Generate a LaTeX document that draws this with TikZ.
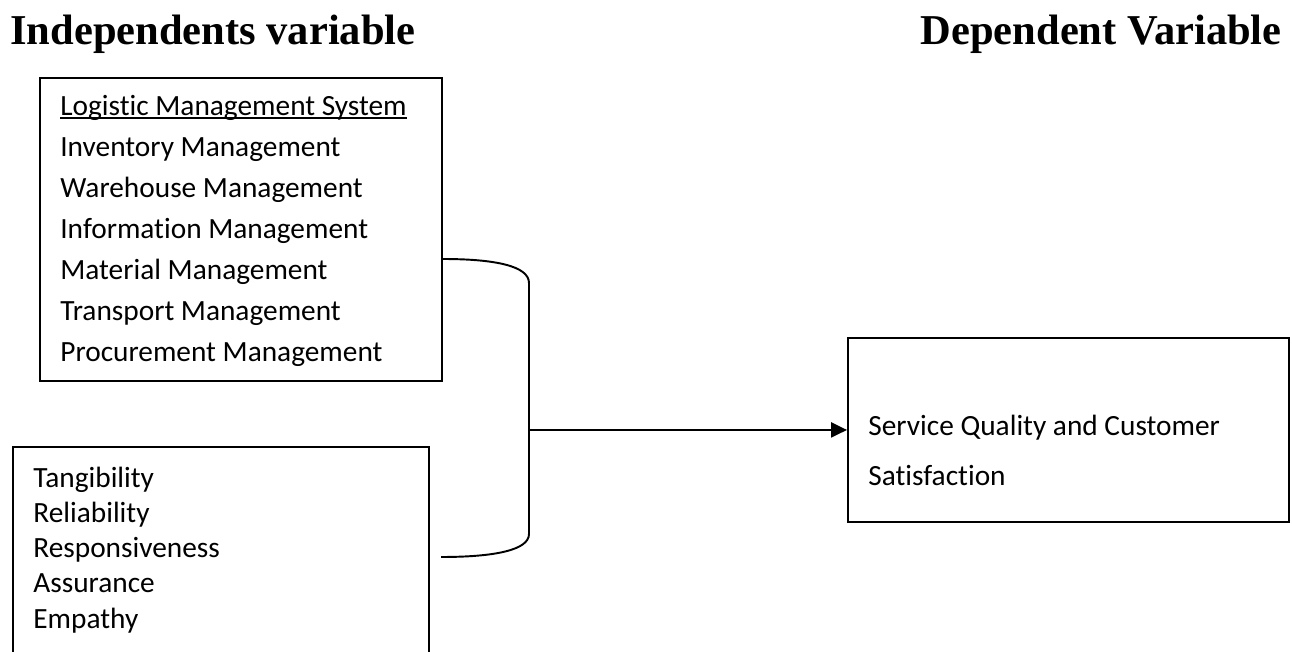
\documentclass[tikz,border=0pt]{standalone}
\usepackage{fontspec}
\setmainfont{Carlito}[Ligatures=NoCommon]
\newfontfamily\titlefont{Liberation Serif}
\usetikzlibrary{arrows.meta}
\tikzset{
  varbox/.style={draw, line width=1.1pt, anchor=north west, inner sep=0pt},
  itemtext/.style={anchor=base west, inner sep=0pt, font=\fontsize{16.7}{20}\selectfont},
  headtext/.style={anchor=base west, inner sep=0pt, font=\titlefont\bfseries\fontsize{24.2}{28}\selectfont},
  link/.style={line width=1.1pt},
}
\begin{document}
\begin{tikzpicture}[x=0.02cm, y=-0.02cm]
  % Parameters
  \def\lmsgap{41} % line spacing in the top box
  \def\dimgap{35.3} % line spacing in the bottom box
  \clip (0,0) rectangle (1292,652);

  % Headings
  \node[headtext] (indep) at (10,45) {Independents variable};
  \node[headtext, anchor=base east] (dep) at (1282,45) {Dependent Variable};

  % Boxes
  \node[varbox, minimum width=8.04cm, minimum height=6.06cm] (lms) at (39,77) {};
  \node[varbox, minimum width=8.32cm, minimum height=4.6cm] (dims) at (12,446) {};
  \node[varbox, minimum width=8.82cm, minimum height=3.68cm] (sqcs) at (847,337) {};

  % Logistic management items
  \node[itemtext] (lmshead) at (60,115) {Logistic Management System};
  \draw[line width=0.8pt] ([yshift=-1.6pt]lmshead.base west) -- ([yshift=-1.6pt]lmshead.base east);
  \foreach \txt [count=\i] in {Inventory Management, Warehouse Management, Information Management, Material Management, Transport Management, Procurement Management} {
      \node[itemtext] (lms-\i) at (60, 115+\i*\lmsgap) {\txt};
  }

  % Service quality dimensions
  \foreach \txt [count=\i from 0] in {Tangibility, Reliability, Responsiveness, Assurance, Empathy} {
      \node[itemtext] (dim-\i) at (33, 487+\i*\dimgap) {\txt};
  }

  % Dependent variable text
  \node[itemtext] (sqcs-1) at (868,435) {Service Quality and Customer};
  \node[itemtext] (sqcs-2) at (868,485) {Satisfaction};

  % Bracket joining both boxes and the arrow
  \coordinate (topend) at (lms.east |- 0,259);
  \coordinate (botend) at (441,557);
  \coordinate (fork) at (529,0 |- sqcs.west);
  \draw[link] (topend) .. controls (495,259) and (529,266) .. (529,283)
      -- (529,534) .. controls (529,550) and (495,557) .. (botend);
  \draw[link, -{Triangle[length=9pt, width=8.5pt]}] (fork) -- (sqcs.west);
\end{tikzpicture}
\end{document}
